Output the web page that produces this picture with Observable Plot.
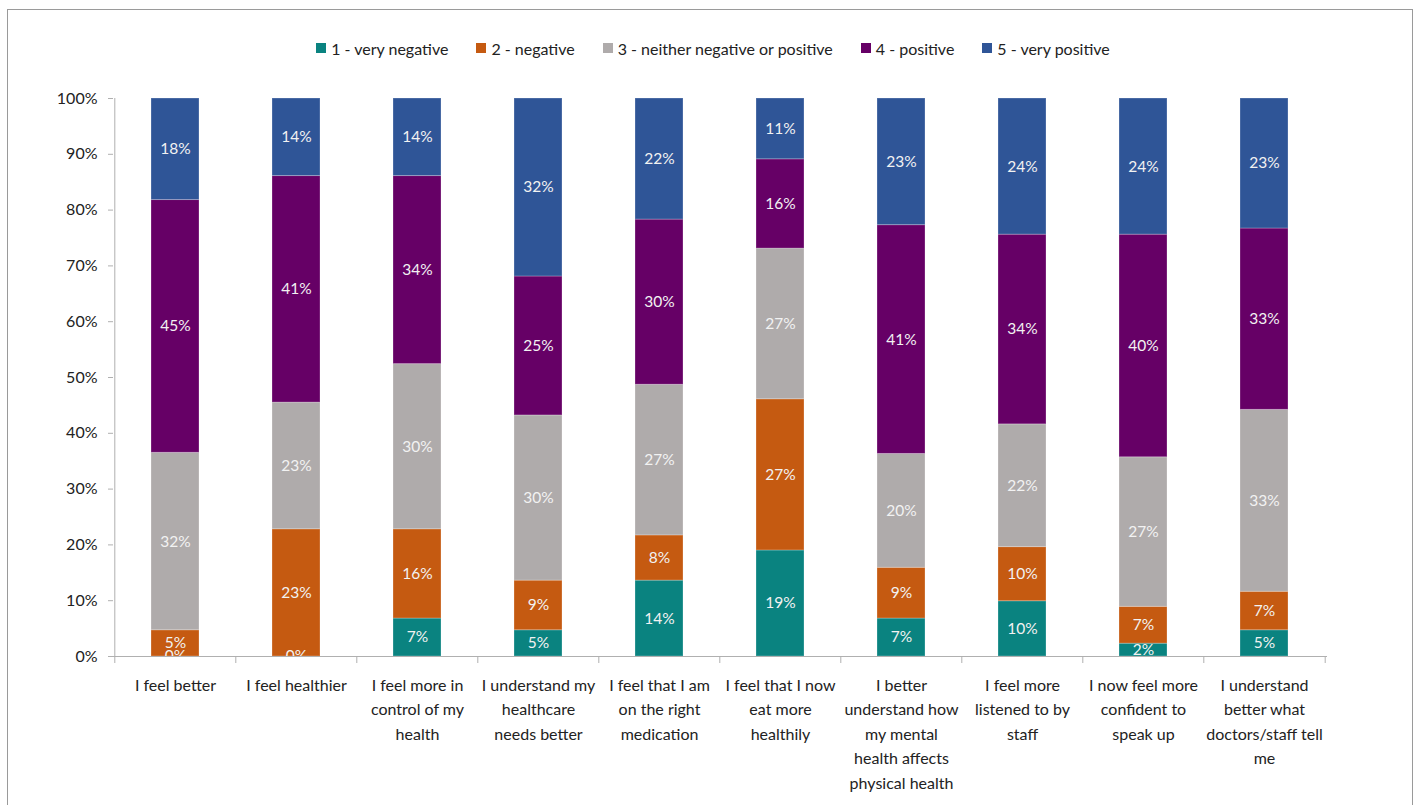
<!DOCTYPE html>
<html>
<head>
<meta charset="utf-8">
<script src="https://cdn.jsdelivr.net/npm/d3@7"></script>
<script src="https://cdn.jsdelivr.net/npm/@observablehq/plot@0.6"></script>
<style>
  html, body { margin: 0; padding: 0; background: #fff; overflow: hidden; }
  body { width: 1419px; height: 805px; position: relative; font-family: Lato, "Liberation Sans", sans-serif; }
  #frame { position: absolute; left: 7px; top: 9px; width: 1406px; height: 820px; border: 1px solid #9a9a9a; box-sizing: border-box; }
  #legend { position: absolute; left: 0; top: 36px; width: 1426px; height: 24px; display: flex; justify-content: center; align-items: center; gap: 28px; font-size: 16px; color: #222; }
  #legend .item { display: flex; align-items: center; gap: 5px; white-space: nowrap; }
  #legend .sw { width: 10px; height: 10px; display: inline-block; }
  #chart { position: absolute; left: 0; top: 70px; }
</style>
</head>
<body>
<div id="frame"></div>
<div id="legend"></div>
<div id="chart"></div>
<script>
const categories = [
  "I feel better",
  "I feel healthier",
  "I feel more in control of my health",
  "I understand my healthcare needs better",
  "I feel that I am on the right medication",
  "I feel that I now eat more healthily",
  "I better understand how my mental health affects physical health",
  "I feel more listened to by staff",
  "I now feel more confident to speak up",
  "I understand better what doctors/staff tell me"
];
const tickLabels = [
  "I feel better",
  "I feel healthier",
  "I feel more in\ncontrol of my\nhealth",
  "I understand my\nhealthcare\nneeds better",
  "I feel that I am\non the right\nmedication",
  "I feel that I now\neat more\nhealthily",
  "I better\nunderstand how\nmy mental\nhealth affects\nphysical health",
  "I feel more\nlistened to by\nstaff",
  "I now feel more\nconfident to\nspeak up",
  "I understand\nbetter what\ndoctors/staff tell\nme"
];
const seriesNames = ["1 - very negative", "2 - negative", "3 - neither negative or positive", "4 - positive", "5 - very positive"];
const seriesColors = ["#0A8380", "#C55A11", "#AFABAB", "#660066", "#2F5597"];

const veryNegative = [0, 0, 6.8, 4.7, 13.6, 19.0, 6.8, 9.9, 2.3, 4.7];
const negative     = [4.7, 22.8, 16.0, 8.9, 8.1, 27.1, 9.1, 9.7, 6.6, 6.9];
const neither      = [31.8, 22.7, 29.6, 29.6, 27.0, 27.0, 20.4, 22.0, 26.8, 32.6];
const positive     = [45.3, 40.6, 33.7, 24.9, 29.6, 16.0, 41.0, 34.0, 39.9, 32.5];
const veryPositive = [18.2, 13.9, 13.9, 31.9, 21.7, 10.9, 22.7, 24.4, 24.4, 23.3];
const yTicks = [0, 10, 20, 30, 40, 50, 60, 70, 80, 90, 100];

const seriesValues = [veryNegative, negative, neither, positive, veryPositive];
const table = [];
categories.forEach((c, i) => {
  seriesNames.forEach((s, j) => {
    table.push({category: c, series: s, value: seriesValues[j][i]});
  });
});

// legend
const legend = document.getElementById("legend");
seriesNames.forEach((s, j) => {
  const item = document.createElement("div");
  item.className = "item";
  const sw = document.createElement("span");
  sw.className = "sw";
  sw.style.background = seriesColors[j];
  const t = document.createElement("span");
  t.textContent = s;
  item.appendChild(sw);
  item.appendChild(t);
  legend.appendChild(item);
});

const W = 1419, H = 735, ML = 113, MR = 92, MT = 28, MB = 149;
const step = (W - ML - MR) / categories.length;
const axisColor = "#b0b0b0";

const chart = Plot.plot({
  width: W, height: H,
  marginTop: MT, marginBottom: MB, marginLeft: ML, marginRight: MR,
  style: {fontFamily: "Lato, 'Liberation Sans', sans-serif", fontSize: "16px", color: "#222", background: "transparent"},
  x: {domain: categories, paddingInner: 0.6, paddingOuter: 0.3, label: null, axis: null},
  y: {domain: [0, 100], label: null, axis: null},
  color: {domain: seriesNames, range: seriesColors},
  marks: [
    Plot.barY(table, Plot.stackY({x: "category", y: "value", fill: "series", order: seriesNames, stroke: "#ffffff", strokeOpacity: 0.25, strokeWidth: 1})),
    Plot.text(table, Plot.stackY({x: "category", y: "value", z: "series", order: seriesNames,
      text: d => Math.round(d.value) + "%", fill: "#f2f2f2", fontSize: 15.5, clip: true})),
    Plot.ruleY([0], {stroke: axisColor}),
    Plot.ruleX([categories[0]], {dx: -step / 2, stroke: axisColor}),
    Plot.axisY({ticks: yTicks, tickFormat: d => d + "%", tickSize: 5, tickPadding: 11, stroke: axisColor, fill: "#222", fontSize: 16}),
    Plot.axisX({tickSize: 7, tickFormat: () => "", dx: -step / 2, stroke: axisColor}),
    Plot.axisX({ticks: [categories[categories.length - 1]], tickSize: 7, tickFormat: () => "", dx: step / 2, stroke: axisColor}),
    Plot.axisX({tickSize: 0, tickPadding: 17, tickFormat: d => tickLabels[categories.indexOf(d)], lineHeight: 1.53, fill: "#222", fontSize: 16})
  ]
});
document.getElementById("chart").appendChild(chart);
</script>
</body>
</html>
